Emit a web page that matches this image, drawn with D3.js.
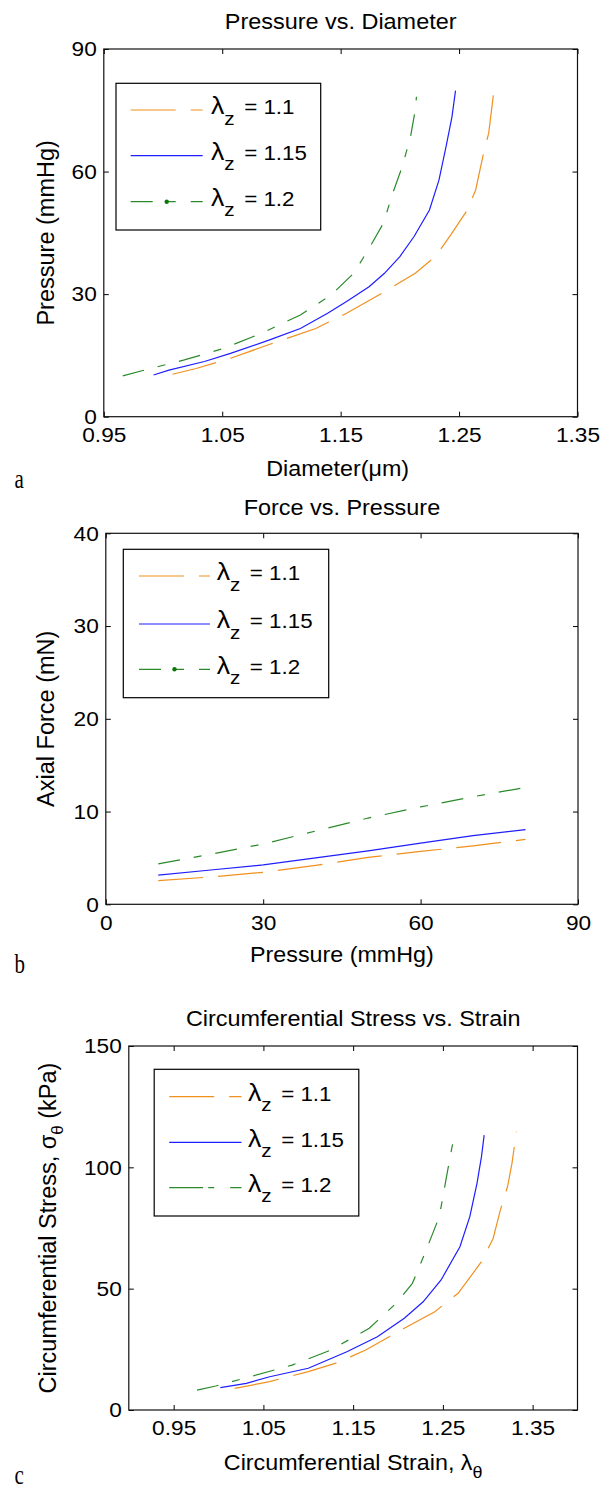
<!DOCTYPE html>
<html><head><meta charset="utf-8">
<script src="https://cdn.jsdelivr.net/npm/d3@7"></script>
<style>body{margin:0;background:#fff} svg{display:block}</style>
</head><body><script>
// ---------- DATA ----------
const lambdaLabels = ["1.1", "1.15", "1.2"];

// Panel a: Pressure vs Diameter
const diamA_11  = [1.008,1.028,1.057,1.093,1.129,1.155,1.187,1.213,1.230,1.243,1.257,1.264,1.270,1.275,1.279];
const presA_11  = [10.4,11.8,14.3,18.0,21.6,25.3,30.6,35.1,39.2,44.5,50.6,55.5,63.6,69.4,78.8];
const diamA_115 = [0.992,1.005,1.035,1.057,1.090,1.116,1.139,1.155,1.174,1.187,1.200,1.212,1.225,1.233,1.239,1.244,1.247];
const presA_115 = [10.2,11.4,13.5,15.5,18.8,21.6,25.3,28.2,31.8,35.1,39.2,44.1,50.6,57.9,66.1,73.4,79.8];
const diamA_12  = [0.966,0.983,1.018,1.051,1.083,1.116,1.142,1.161,1.174,1.186,1.194,1.202,1.209,1.213,1.214];
const presA_12  = [10.0,11.3,13.9,16.7,20.4,24.9,29.8,35.1,41.2,47.3,54.7,61.2,68.5,75.1,78.3];
const xTicksA = [0.95,1.05,1.15,1.25,1.35];
const xTickLabelsA = ["0.95","1.05","1.15","1.25","1.35"];
const yTicksA = [0,30,60,90];

// Panel b: Force vs Pressure
const presB     = [10,20,30,40,50,60,70,80];
const forceB_11 = [2.55,2.95,3.45,4.2,5.05,5.7,6.3,7.0];
const forceB_115= [3.15,3.7,4.25,5.0,5.75,6.6,7.4,8.05];
const forceB_12 = [4.35,5.4,6.5,7.9,9.3,10.5,11.6,12.6];
const xTicksB = [0,30,60,90];
const yTicksB = [0,10,20,30,40];

// Panel c: Circumferential stress vs strain
const strainC_11  = [1.018,1.057,1.100,1.130,1.164,1.207,1.241,1.267,1.293,1.306,1.314,1.322,1.327,1.332];
const stressC_11  = [8.9,11.7,15.8,19.2,24.7,33.7,40.5,48.1,61.1,70.7,82.4,92.0,101.7,114.7];
const strainC_115 = [1.002,1.031,1.057,1.100,1.143,1.177,1.207,1.228,1.248,1.269,1.280,1.288,1.293,1.296];
const stressC_115 = [9.2,11.0,13.7,17.2,24.0,30.2,37.8,44.6,53.6,67.3,79.7,93.4,104.4,113.3];
const strainC_12  = [0.976,0.997,1.035,1.082,1.125,1.168,1.198,1.216,1.230,1.246,1.254,1.262];
const stressC_12  = [8.2,9.9,13.7,18.5,24.7,33.7,44.0,52.2,64.6,79.7,96.1,112.0];
const xTicksC = [0.95,1.05,1.15,1.25,1.35];
const xTickLabelsC = ["0.95","1.05","1.15","1.25","1.35"];
const yTicksC = [0,50,100,150];

// ---------- STYLE ----------
const FONT = "'Liberation Sans', Arial, Helvetica, sans-serif";
const SERIF = "'Liberation Serif', 'Times New Roman', serif";
const colors = ["#f0901e", "#1e1eff", "#2a8a2a"];
const dashes = ["45,15", null, "22,14,8,14"];
const legendDashes = ["45,15", null, "22,13,10,15"];

const svg = d3.select("body").append("svg").attr("width", 602).attr("height", 1490)
  .style("font-family", FONT);

function sText(parent, x, y, str, size, sx, anchor) {
  return parent.append("text")
    .attr("transform", `translate(${x},${y}) scale(${sx},1)`)
    .attr("text-anchor", anchor || "start")
    .attr("font-size", size).attr("fill", "#000").text(str);
}

function panel(cfg) {
  const x = d3.scaleLinear().domain(cfg.xDomain).range([cfg.left, cfg.right]);
  const y = d3.scaleLinear().domain(cfg.yDomain).range([cfg.bottom, cfg.top]);
  const g = svg.append("g");

  // curves
  const line = d3.line().x(d => x(d[0])).y(d => y(d[1]));
  cfg.series.forEach((s, i) => {
    g.append("path").datum(d3.zip(s[0], s[1]))
      .attr("d", line).attr("fill", "none")
      .attr("stroke", colors[i]).attr("stroke-width", 1.2)
      .attr("stroke-dasharray", dashes[i]);
  });

  // axes
  const fmtX = cfg.xLabels ? (d, i) => cfg.xLabels[i] : d3.format("d");
  const styleAxis = (sel, labels) => {
    sel.select(".domain").remove();
    sel.selectAll(".tick line").attr("stroke", "#000");
    sel.selectAll(".tick text")
      .attr("font-family", FONT).attr("font-size", labels ? 21 : 0).attr("fill", "#000")
      .attr("transform", "scale(1.08,1)");
  };
  g.append("g").attr("transform", `translate(0,${cfg.bottom})`)
    .call(d3.axisBottom(x).tickValues(cfg.xTicks).tickFormat(fmtX).tickSize(-5).tickSizeOuter(0).tickPadding(10.5))
    .call(s => styleAxis(s, true));
  g.append("g").attr("transform", `translate(0,${cfg.top})`)
    .call(d3.axisTop(x).tickValues(cfg.xTicks).tickFormat("").tickSize(-5).tickSizeOuter(0))
    .call(s => styleAxis(s, false));
  g.append("g").attr("transform", `translate(${cfg.left},0)`)
    .call(d3.axisLeft(y).tickValues(cfg.yTicks).tickFormat(d3.format("d")).tickSize(-5).tickSizeOuter(0).tickPadding(6.5))
    .call(s => styleAxis(s, true));
  g.append("g").attr("transform", `translate(${cfg.right},0)`)
    .call(d3.axisRight(y).tickValues(cfg.yTicks).tickFormat("").tickSize(-5).tickSizeOuter(0))
    .call(s => styleAxis(s, false));

  // frame
  g.append("rect").attr("x", cfg.left).attr("y", cfg.top)
    .attr("width", cfg.right - cfg.left).attr("height", cfg.bottom - cfg.top)
    .attr("fill", "none").attr("stroke", "#111").attr("stroke-width", 1.2);

  // title
  sText(g, (cfg.left + cfg.right) / 2, cfg.titleY, cfg.title, 22, 1.065, "middle");

  // x label
  const xl = g.append("text")
    .attr("transform", `translate(${(cfg.left + cfg.right) / 2 + (cfg.xLabelDx || 0)},${cfg.xLabelY}) scale(1.06,1)`)
    .attr("text-anchor", "middle").attr("font-size", 22).attr("fill", "#000");
  cfg.xLabel.forEach(p => {
    const t = xl.append("tspan").text(p.t);
    if (p.sub) t.attr("font-size", 17).attr("dy", p.dy);
    if (p.up) t.attr("dy", p.up);
  });

  // y label
  const yl = g.append("text")
    .attr("transform", `translate(${cfg.yLabelX},${(cfg.top + cfg.bottom) / 2}) rotate(-90)`)
    .attr("text-anchor", "middle").attr("font-size", 23.5).attr("fill", "#000");
  cfg.yLabel.forEach(p => {
    const t = yl.append("tspan").text(p.t);
    if (p.sub) t.attr("font-size", 17).attr("dy", p.dy);
    if (p.up) t.attr("dy", p.up);
  });

  // legend
  const L = cfg.legend;
  const lg = g.append("g");
  lg.append("rect").attr("x", L.x0).attr("y", L.y0).attr("width", L.x1 - L.x0).attr("height", L.y1 - L.y0)
    .attr("fill", "#fff").attr("stroke", "#000").attr("stroke-width", 1.2);
  lambdaLabels.forEach((lab, i) => {
    const ly = L.y0 + L.rows[i];
    lg.append("line").attr("x1", L.lx0).attr("x2", L.lx1).attr("y1", ly).attr("y2", ly)
      .attr("stroke", colors[i]).attr("stroke-width", 1.2)
      .attr("stroke-dasharray", (cfg.legendDash || legendDashes)[i]);
    if (i === 2 && L.dot) {
      lg.append("circle").attr("cx", (L.lx0 + L.lx1) / 2).attr("cy", ly).attr("r", 2.2).attr("fill", "#0a780a");
    }
    const t = lg.append("text")
      .attr("transform", `translate(${L.tx},${ly + 4.2}) scale(1.09,1)`)
      .attr("font-size", 20.5).attr("fill", "#000");
    t.append("tspan").attr("font-size", 24.5).text("λ");
    t.append("tspan").attr("font-size", 19).attr("dy", 10.5).text("z");
    t.append("tspan").attr("dy", -10.5).attr("dx", 3).text(" = " + lab);
  });

  // panel letter
  svg.append("text").attr("transform", `translate(14.5,${cfg.letterY}) scale(1,1.3)`)
    .attr("font-family", SERIF).attr("font-size", 21).attr("fill", "#000").text(cfg.letter);
}

panel({
  left: 103.8, right: 577.5, top: 49, bottom: 416.7,
  xDomain: [0.95, 1.35], yDomain: [0, 90],
  xTicks: xTicksA, xLabels: xTickLabelsA, yTicks: yTicksA,
  series: [[diamA_11, presA_11], [diamA_115, presA_115], [diamA_12, presA_12]],
  title: "Pressure vs. Diameter", titleY: 29,
  xLabel: [{t: "Diameter(μm)"}], xLabelY: 476, xLabelDx: -3,
  yLabel: [{t: "Pressure (mmHg)"}], yLabelX: 54,
  legend: {x0: 116, x1: 320.7, y0: 83.3, y1: 230, rows: [26.7, 72.4, 118.4], lx0: 130.7, lx1: 202.7, tx: 211, dot: true},
  letter: "a", letterY: 487.5
});

panel({
  left: 105.8, right: 578, top: 533.3, bottom: 904.3,
  xDomain: [0, 90], yDomain: [0, 40],
  xTicks: xTicksB, yTicks: yTicksB,
  series: [[presB, forceB_11], [presB, forceB_115], [presB, forceB_12]],
  title: "Force vs. Pressure", titleY: 515,
  xLabel: [{t: "Pressure (mmHg)"}], xLabelY: 961.5,
  yLabel: [{t: "Axial Force (mN)"}], yLabelX: 54,
  legend: {x0: 123.3, x1: 328.7, y0: 549.3, y1: 697.7, rows: [26.7, 74.7, 120], lx0: 139, lx1: 210, tx: 216.7, dot: true},
  letter: "b", letterY: 973
});

panel({
  left: 128.8, right: 577.5, top: 1046, bottom: 1410,
  xDomain: [0.9, 1.4], yDomain: [0, 150],
  xTicks: xTicksC, xLabels: xTickLabelsC, yTicks: yTicksC,
  series: [[strainC_11, stressC_11], [strainC_115, stressC_115], [strainC_12, stressC_12]],
  title: "Circumferential Stress vs. Strain", titleY: 1026,
  xLabel: [{t: "Circumferential Strain, λ"}, {t: "θ", sub: true, dy: 8}], xLabelY: 1470,
  yLabel: [{t: "Circumferential Stress, σ"}, {t: "θ", sub: true, dy: 7}, {t: " (kPa)", up: -7}], yLabelX: 55.5,
  legend: {x0: 154.2, x1: 358.8, y0: 1069.3, y1: 1216, rows: [27.4, 73, 118.4], lx0: 169.2, lx1: 241.5, tx: 248, dot: false},
  legendDash: ["45,15", null, "34,5,6,16"],
  letter: "c", letterY: 1484
});
</script></body></html>
